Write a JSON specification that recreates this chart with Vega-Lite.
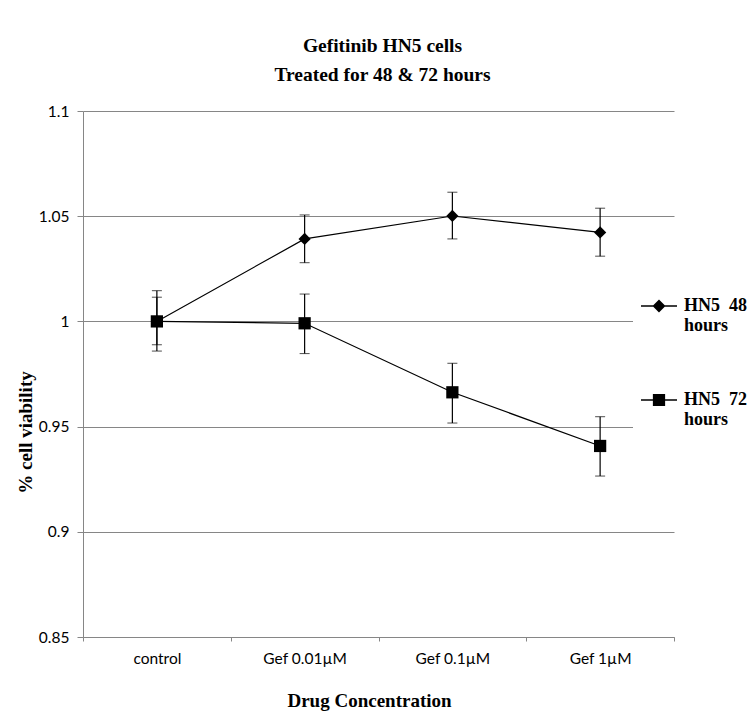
{
  "$schema": "https://vega.github.io/schema/vega-lite/v6.json",
  "width": 591,
  "height": 526,
  "autosize": {"type": "none"},
  "padding": {"left": 83, "top": 111, "right": 82, "bottom": 76},
  "background": "white",
  "title": {
    "text": ["Gefitinib HN5 cells", "Treated for 48 & 72 hours"],
    "font": "Liberation Serif",
    "fontSize": 19.5,
    "fontWeight": "bold",
    "lineHeight": 29,
    "color": "black",
    "anchor": "middle",
    "dx": 4,
    "offset": 19
  },
  "data": {
    "values": [
      {"series": "HN5 48 hours", "conc": "control", "v": 1.0, "lo": 0.9889, "hi": 1.0115},
      {"series": "HN5 48 hours", "conc": "Gef 0.01µM", "v": 1.0392, "lo": 1.0279, "hi": 1.0506},
      {"series": "HN5 48 hours", "conc": "Gef 0.1µM", "v": 1.0501, "lo": 1.0392, "hi": 1.0614},
      {"series": "HN5 48 hours", "conc": "Gef 1µM", "v": 1.0423, "lo": 1.031, "hi": 1.0538},
      {"series": "HN5 72 hours", "conc": "control", "v": 1.0, "lo": 0.9859, "hi": 1.0146},
      {"series": "HN5 72 hours", "conc": "Gef 0.01µM", "v": 0.9991, "lo": 0.9847, "hi": 1.013},
      {"series": "HN5 72 hours", "conc": "Gef 0.1µM", "v": 0.9663, "lo": 0.9517, "hi": 0.9801},
      {"series": "HN5 72 hours", "conc": "Gef 1µM", "v": 0.9408, "lo": 0.9265, "hi": 0.9547}
    ]
  },
  "encoding": {
    "x": {
      "field": "conc",
      "type": "nominal",
      "sort": ["control", "Gef 0.01µM", "Gef 0.1µM", "Gef 1µM"],
      "scale": {"type": "band", "paddingInner": 0, "paddingOuter": 0},
      "axis": {
        "title": "Drug Concentration",
        "titleFont": "Liberation Serif",
        "titleFontSize": 19,
        "titleFontWeight": "bold",
        "titleColor": "black",
        "titleX": 286,
        "titleY": 69,
        "titleBaseline": "alphabetic",
        "titleAnchor": "middle",
        "titleAlign": "center",
        "labelAngle": 0,
        "labelFont": "Lato",
        "labelFontSize": 15.5,
        "labelColor": "black",
        "labelPadding": 10,
        "tickBand": "extent",
        "tickSize": 4,
        "tickColor": "#868686",
        "domainColor": "#868686",
        "grid": false
      }
    }
  },
  "layer": [
    {
      "mark": {"type": "rule", "color": "black", "strokeWidth": 1.2},
      "encoding": {
        "y": {
          "field": "lo",
          "type": "quantitative",
          "scale": {"domain": [0.85, 1.1], "nice": false, "zero": false},
          "axis": {
            "title": "% cell viability",
            "titleFont": "Liberation Serif",
            "titleFontSize": 19,
            "titleFontWeight": "bold",
            "titleColor": "black",
            "titleX": -58,
            "titleY": 321,
            "titleAngle": -90,
            "titleAlign": "center",
            "titleBaseline": "middle",
            "labelFont": "Lato",
            "labelFontSize": 15.5,
            "labelColor": "black",
            "labelPadding": 8,
            "tickSize": 6,
            "tickColor": "#868686",
            "domainColor": "#868686",
            "gridColor": "#868686",
            "grid": true,
            "values": [0.85, 0.9, 0.95, 1.0, 1.05, 1.1],
            "format": "~g"
          }
        },
        "y2": {"field": "hi"}
      }
    },
    {
      "mark": {"type": "tick", "color": "black", "size": 10, "thickness": 1, "orient": "horizontal"},
      "encoding": {"y": {"field": "lo", "type": "quantitative", "scale": {"domain": [0.85, 1.1], "nice": false, "zero": false}, "axis": {"title": "% cell viability"}}}
    },
    {
      "mark": {"type": "tick", "color": "black", "size": 10, "thickness": 1, "orient": "horizontal"},
      "encoding": {"y": {"field": "hi", "type": "quantitative", "scale": {"domain": [0.85, 1.1], "nice": false, "zero": false}, "axis": {"title": "% cell viability"}}}
    },
    {
      "mark": {"type": "line", "color": "black", "strokeWidth": 1.2},
      "encoding": {
        "y": {"field": "v", "type": "quantitative", "scale": {"domain": [0.85, 1.1], "nice": false, "zero": false}, "axis": {"title": "% cell viability"}},
        "detail": {"field": "series", "type": "nominal"}
      }
    },
    {
      "mark": {"type": "point", "filled": true, "color": "black", "opacity": 1, "size": 150},
      "encoding": {
        "y": {"field": "v", "type": "quantitative", "scale": {"domain": [0.85, 1.1], "nice": false, "zero": false}, "axis": {"title": "% cell viability"}},
        "shape": {
          "field": "series",
          "type": "nominal",
          "scale": {"domain": ["HN5 48 hours", "HN5 72 hours"], "range": ["diamond", "square"]},
          "legend": null
        }
      }
    },
    {
      "transform": [{"filter": "false"}],
      "mark": {"type": "point", "filled": true, "color": "black", "opacity": 1},
      "encoding": {
        "y": {"field": "v", "type": "quantitative", "scale": {"domain": [0.85, 1.1], "nice": false, "zero": false}, "axis": {"title": "% cell viability"}},
        "shape": {
          "field": "series",
          "type": "nominal",
          "scale": {
            "domain": ["HN5 48 hours", "HN5 72 hours"],
            "range": [
              "M-1,-0.035H1V0.035H-1ZM0,-0.36L0.36,0L0,0.36L-0.36,0Z",
              "M-1,-0.035H1V0.035H-1ZM-0.34,-0.34H0.34V0.34H-0.34Z"
            ]
          },
          "legend": {
            "title": null,
            "orient": "none",
            "legendX": 550,
            "legendY": 169,
            "fillColor": "white",
            "padding": 8,
            "symbolSize": 1296,
            "symbolFillColor": "black",
            "symbolStrokeWidth": 0,
            "symbolOpacity": 1,
            "labelFont": "Liberation Serif",
            "labelFontSize": 18,
            "labelFontWeight": "bold",
            "labelColor": "black",
            "labelLineHeight": 23,
            "labelBaseline": "middle",
            "labelOffset": 7,
            "rowPadding": 47,
            "labelExpr": "[replace(slice(datum.label,0,6),' ','\u00a0 '), 'hours']"
          }
        }
      }
    }
  ],
  "resolve": {"scale": {"shape": "independent"}},
  "config": {
    "view": {"stroke": null}
  }
}
